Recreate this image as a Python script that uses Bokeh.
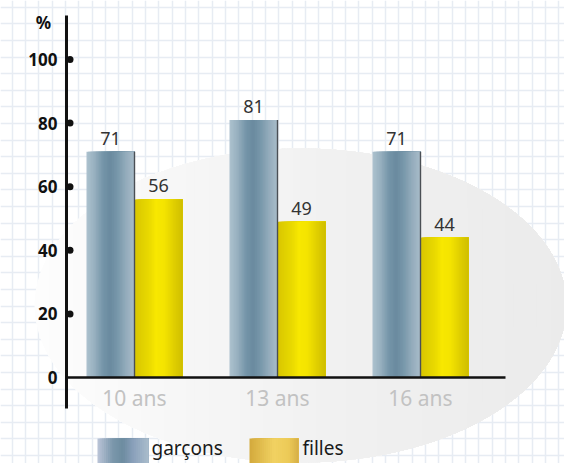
import numpy as np
from bokeh.plotting import figure
from bokeh.models import Range1d, Grid, FixedTicker
from bokeh.core.properties import value
from bokeh.embed import file_html
from bokeh.resources import INLINE

# ---- data -------------------------------------------------------------
categories = ["10 ans", "13 ans", "16 ans"]
garcons = [71, 81, 71]
filles = [56, 49, 44]
y_ticks = [0, 20, 40, 60, 80, 100]
y_tick_labels = ["0", "20", "40", "60", "80", "100"]
series_names = ["garçons", "filles"]

# ---- geometry helpers (canvas pixel -> data units) --------------------
W, H = 564, 463
CAT_PX0, CAT_STEP = 134.0, 143.0      # first category centre, spacing
Y0_PX, PX_PER_UNIT = 377.0, 3.18      # y=0 baseline, pixels per %


def xd(px):
    return 1 + (px - CAT_PX0) / CAT_STEP


def yd(py):
    return (Y0_PX - py) / PX_PER_UNIT


def hex_to_rgb(h):
    h = h.lstrip("#")
    return [int(h[i:i + 2], 16) for i in (0, 2, 4)]


def gradient(stops, t):
    """Piecewise-linear colour ramp; stops = [(pos, '#rrggbb'), ...]."""
    for (p0, c0), (p1, c1) in zip(stops[:-1], stops[1:]):
        if p0 <= t <= p1:
            f = 0 if p1 == p0 else (t - p0) / (p1 - p0)
            a, b = hex_to_rgb(c0), hex_to_rgb(c1)
            rgb = [round(a[i] + (b[i] - a[i]) * f) for i in range(3)]
            return "#%02x%02x%02x" % tuple(rgb)
    return stops[-1][1]


BLUE = [(0.0, "#adc2ce"), (0.15, "#9ab2c1"), (0.35, "#7494a8"), (0.5, "#6a8a9f"),
        (0.65, "#7898ab"), (0.82, "#93abbb"), (1.0, "#a9bdca")]
YELLOW = [(0.0, "#d8c600"), (0.3, "#e9d900"), (0.45, "#f8e800"), (0.62, "#f4e400"),
          (0.82, "#e0cf00"), (1.0, "#d0bf00")]
BLUE_KEY = [(0.0, "#bcc5d8"), (0.3, "#7b97ab"), (0.5, "#6d8ca0"), (0.7, "#8aa0bb"),
            (1.0, "#aabdcc")]
YELLOW_KEY = [(0.0, "#d3a93c"), (0.5, "#f1d262"), (0.8, "#ecca57"), (1.0, "#d6ae46")]
ELLIPSE = [(0.0, "#fdfdfd"), (0.3, "#f6f6f6"), (0.6, "#f0f0f0"), (1.0, "#ebebeb")]

p = figure(width=W, height=H, output_backend="svg", toolbar_location=None,
           x_range=Range1d(xd(0), xd(W)), y_range=Range1d(yd(H), yd(0)),
           x_axis_type=None, y_axis_type=None, min_border=0,
           outline_line_color=None, background_fill_color="white",
           border_fill_color="white")

# ---- squared paper background ----------------------------------------
gx = [xd(px) for px in np.arange(11.7 - 13.33, W + 14, 13.33)]
gy = [yd(py) for py in np.arange(6.7 - 16.6, H + 17, 16.6)]
p.add_layout(Grid(dimension=0, ticker=FixedTicker(ticks=gx),
                  grid_line_color="#e7ecf3", grid_line_width=1.5))
p.add_layout(Grid(dimension=1, ticker=FixedTicker(ticks=gy),
                  grid_line_color="#e7ecf3", grid_line_width=1.5))

# ---- soft grey ellipse behind the bars (left-to-right shading) -------
ecx, ecy = xd(300), yd(305)
ea, eb = 266 / CAT_STEP, 157 / PX_PER_UNIT
n_band = 70
exs, eys, ecs = [], [], []
for k in range(n_band):
    xs0 = ecx - ea + 2 * ea * k / n_band
    t0 = np.arccos(np.clip((xs0 - ecx) / ea, -1, 1))
    t = np.linspace(t0, -t0, 120)
    exs.append(list(ecx + ea * np.cos(t)))
    eys.append(list(ecy + eb * np.sin(t)))
    ecs.append(gradient(ELLIPSE, k / n_band))
p.patches(exs, eys, fill_color=ecs, line_color=None)

# ---- bars with cylindrical shading -----------------------------------
# each layer spans from its own left edge to the bar's right edge, so the
# stacked layers leave no seams between neighbouring shades
cat_x = [i + 1 for i in range(len(categories))]
bar_w = 48 / CAT_STEP
n_strip = 30
sw = bar_w / n_strip
for vals, stops, side in ((garcons, BLUE, -1), (filles, YELLOW, 1)):
    left = -bar_w if side < 0 else 0.0
    right = 0.0 if side < 0 else bar_w
    for i in range(n_strip):
        off = left + i * sw
        col = gradient(stops, (i + 0.5) / n_strip)
        p.quad(left=[c + off for c in cat_x], right=[c + right for c in cat_x],
               top=vals, bottom=0, fill_color=col, line_color=None)

# thin dark edge between the two bars of each group
p.segment(x0=cat_x, y0=[0] * len(cat_x), x1=cat_x, y1=garcons,
          line_color="#4a4f55", line_width=1.4)

# value labels
p.text(x=[c - bar_w / 2 for c in cat_x], y=[v + 2.2 for v in garcons],
       text=[str(v) for v in garcons], text_align="center",
       text_baseline="bottom", text_font=value("Noto Sans"),
       text_font_size="18px", text_color="#333333")
p.text(x=[c + bar_w / 2 for c in cat_x], y=[v + 2.2 for v in filles],
       text=[str(v) for v in filles], text_align="center",
       text_baseline="bottom", text_font=value("Noto Sans"),
       text_font_size="18px", text_color="#333333")

# ---- axes ------------------------------------------------------------
ax_x = xd(66)
p.segment(x0=[ax_x], y0=[yd(408)], x1=[ax_x], y1=[yd(15)],
          line_color="#111111", line_width=3)
p.segment(x0=[ax_x], y0=[0], x1=[xd(505)], y1=[0],
          line_color="#111111", line_width=2.5)
p.scatter(x=[xd(69.5)] * (len(y_ticks) - 1), y=y_ticks[1:], size=7,
          fill_color="#111111", line_color=None)
p.text(x=[xd(57)] * len(y_ticks), y=y_ticks, text=y_tick_labels,
       text_align="right", text_baseline="middle",
       text_font=value("Noto Sans"), text_font_style="bold",
       text_font_size="17px", text_color="#111111")
p.text(x=[xd(43)], y=[yd(22)], text=["%"], text_align="center",
       text_baseline="middle", text_font=value("Noto Sans"),
       text_font_style="bold", text_font_size="17px", text_color="#111111")

# category labels
p.text(x=cat_x, y=[yd(397)] * len(cat_x), text=categories,
       text_align="center", text_baseline="middle",
       text_font=value("Noto Sans"), text_font_size="21px",
       text_color="#c2c2c2")

# ---- legend ------------------------------------------------------------
n_key = 24
for (x_px0, x_px1), stops in (((97, 148), BLUE_KEY), ((249, 298), YELLOW_KEY)):
    kx0, kx1 = xd(x_px0), xd(x_px1)
    kw = (kx1 - kx0) / n_key
    lefts = [kx0 + i * kw for i in range(n_key)]
    p.quad(left=lefts, right=[kx1] * n_key,
           bottom=yd(H + 2), top=yd(438),
           fill_color=[gradient(stops, (i + 0.5) / n_key) for i in range(n_key)],
           line_color=None)
p.text(x=[xd(151), xd(302)], y=[yd(447)] * 2, text=series_names,
       text_align="left", text_baseline="middle",
       text_font=value("Noto Sans"), text_font_size="19px",
       text_color="#1a1a1a")

open("out.html", "w").write(file_html(p, INLINE))
